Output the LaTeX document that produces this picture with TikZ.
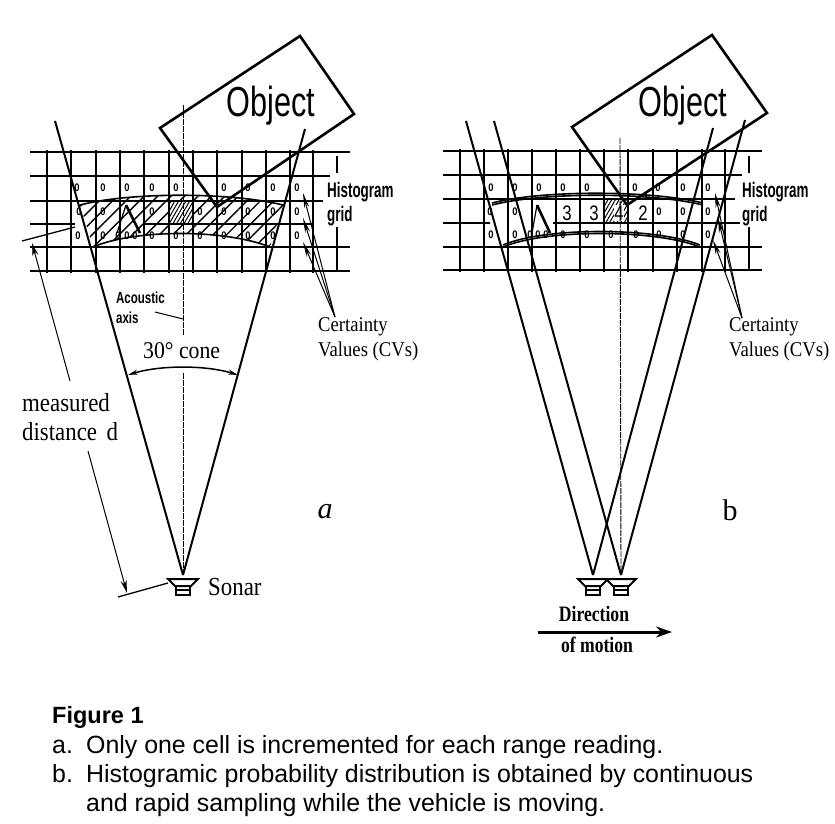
\documentclass[tikz,border=0pt]{standalone}
\usepackage{fontspec}
\setmainfont{Liberation Serif}
\newfontfamily\capfont{Liberation Sans}
\usetikzlibrary{positioning,arrows.meta,patterns.meta}
\tikzset{
	gridline/.style={line width=1.4pt},
	beam/.style={line width=2pt},
	objectbox/.style={line width=2.6pt, line join=miter},
	arcline/.style={line width=1.6pt},
	axisline/.style={line width=0.9pt, dash pattern=on 6pt off 1pt},
	thinline/.style={line width=1pt},
	pointer/.style={line width=1pt, -{Stealth[length=15pt,width=5pt]}},
	hatch/.style={pattern={Lines[angle=45,distance=9.5pt,line width=1.4pt]}},
	densehatch/.style={pattern={Lines[angle=60,distance=3.2pt,line width=1pt]}},
	cv/.style={font=\capfont\fontsize{11}{11}\selectfont\bfseries, xscale=.85, transform shape, inner sep=0pt},
	cvnum/.style={font=\capfont\fontsize{21}{21}\selectfont, xscale=.8, transform shape, inner sep=0pt},
	serif/.style={font=\fontsize{26}{26}\selectfont, xscale=.88, transform shape, inner sep=0pt, anchor=west},
	certtext/.style={font=\fontsize{21}{21}\selectfont, xscale=.89, transform shape, inner sep=0pt, anchor=west},
	objtext/.style={font=\capfont\fontsize{42}{42}\selectfont, xscale=.73, transform shape, inner sep=0pt},
	gridtext/.style={font=\capfont\fontsize{21}{21}\selectfont\bfseries, xscale=.64, transform shape, inner sep=0pt, anchor=west},
	axistext/.style={font=\capfont\fontsize{16}{16}\selectfont\bfseries, xscale=.72, transform shape, inner sep=0pt, anchor=west},
	motiontext/.style={font=\fontsize{22}{22}\selectfont\bfseries, xscale=.8, transform shape, inner sep=0pt},
	captext/.style={font=\capfont\fontsize{24.9}{24.9}\selectfont, inner sep=0pt, anchor=base west},
}
\newcommand{\drawsonar}[1]{
	\begin{scope}[shift={(#1)}]
		\draw[line width=2pt, fill=white] (-15,4) -- (15,4) -- (8,11) -- (-8,11) -- cycle;
		\draw[line width=1.7pt] (-7,11) rectangle (7,20);
		\draw[line width=1.7pt] (-7,15) -- (7,15);
	\end{scope}
}
\begin{document}
\begin{tikzpicture}[x=1pt, y=-1pt]
	\useasboundingbox (0,0) rectangle (835,824);
	\fill[white] (0,0) rectangle (835,824);

	% panel a
	\fill[white] (80,205) .. controls (130,192) and (230,192) .. (283,205) -- (270,247)
		.. controls (225,229) and (135,229) .. (93,247) -- cycle;
	\path[hatch] (80,205) .. controls (130,192) and (230,192) .. (283,205) -- (270,247)
		.. controls (225,229) and (135,229) .. (93,247) -- cycle;
	\fill[white] (169,201) rectangle (193,224);
	\path[densehatch] (169,201) rectangle (193,224);

	\draw[gridline] (30,152) -- (350,152);
	\draw[gridline] (30,176) -- (330,176);
	\draw[gridline] (30,201) -- (323,201);
	\draw[gridline] (30,224) -- (75,224);
	\draw[gridline] (143,224) -- (313,224);
	\draw[gridline] (30,247) -- (350,247);
	\draw[gridline] (30,271) -- (350,271);
	\foreach \x in {47,71,96,120,144,169,193,217,242,266,290,313}
		\draw[gridline] (\x,150) -- (\x,273);
	\draw[gridline] (337,156) -- (337,173);
	\draw[gridline] (337,227) -- (337,272);

	\foreach \x in {77,103,127,152,176,224,248,273,297}
		\node[cv] (zaa\x) at (\x,188) {0};
	\foreach \x in {79,103,152,200,224,248,273,297}
		\node[cv] (zab\x) at (\x,212) {0};
	\foreach \x in {78,103,118,127,135,152,176,200,224,248,273,297}
		\node[cv] (zac\x) at (\x,236) {0};

	\draw[arcline] (80,205) .. controls (130,192) and (230,192) .. (283,205);
	\draw[arcline] (93,247) .. controls (135,229) and (225,229) .. (270,247);
	\draw[line width=1.2pt] (117,233) -- (126,205);
	\draw[line width=2.6pt] (126,205) -- (140,233);

	\coordinate (sonarA) at (183,575);
	\coordinate (coneAl) at (55,121);
	\coordinate (coneAr) at (305,129);
	\draw[beam] (sonarA) -- (coneAl);
	\draw[beam] (sonarA) -- (coneAr);
	\draw[axisline] (183,105) -- (183,335);
	\draw[axisline] (183,373) -- (sonarA);
	\draw[objectbox] (300,36) -- (354,114) -- (217,207) -- (160,128) -- cycle;
	\node[objtext] (objectA) at (271,106) {Object};
	\drawsonar{183,575}
	\node[serif] (sonarlabel) at (208,587) {Sonar};

	\node[gridtext] (histA) at (327,192) {Histogram};
	\node[gridtext] (gridA) at (327,216) {grid};
	\node[certtext] (certA) at (318,327) {Certainty};
	\node[certtext] (valA) at (318,351) {Values (CVs)};
	\coordinate (certtipA) at (335,317);
	\coordinate (cvAa) at (303,193);
	\coordinate (cvAb) at (303,218);
	\coordinate (cvAc) at (303,242);
	\draw[pointer] (certtipA) -- (cvAa);
	\draw[pointer] (certtipA) -- (cvAb);
	\draw[pointer] (certtipA) -- (cvAc);

	\node[axistext] (acoustic) at (116,298) {Acoustic};
	\node[axistext] (axislabel) at (116,318) {axis};
	\coordinate (axispoint) at (183,319);
	\draw[thinline] (155,312) -- (axispoint);

	\node[serif, font=\fontsize{24}{24}\selectfont, xscale=1.03] (conelabel) at (143,351) {30° cone};
	\coordinate (arcl) at (128,375);
	\coordinate (arcr) at (238,375);
	\draw[line width=1.5pt, {Stealth[length=10pt,width=5pt]}-{Stealth[length=10pt,width=5pt]}]
		(arcl) .. controls (160,365) and (206,365) .. (arcr);

	\node[serif] (measured) at (22,403) {measured};
	\node[serif] (distance) at (22,432) {distance\, d};
	\coordinate (disttop) at (32,243);
	\coordinate (distbot) at (127,593);
	\draw[thinline, -{Stealth[length=13pt,width=6pt]}] (70,381) -- (disttop);
	\draw[thinline, -{Stealth[length=13pt,width=6pt]}] (88,451) -- (distbot);
	\draw[line width=1.3pt] (22,241) -- (75,227);
	\draw[line width=1.3pt] (118,597) -- (168,583);
	\node[font=\fontsize{30}{30}\selectfont\itshape, inner sep=0pt] (panelA) at (325,512) {a};

	% panel b
	\fill[white] (604,199) rectangle (628,223);
	\path[densehatch] (604,199) rectangle (628,223);

	\draw[gridline] (443,151) -- (762,151);
	\draw[gridline] (443,175) -- (742,175);
	\draw[gridline] (443,199) -- (735,199);
	\draw[gridline] (443,223) -- (490,223);
	\draw[gridline] (553,223) -- (740,223);
	\draw[gridline] (443,247) -- (762,247);
	\draw[gridline] (443,270) -- (762,270);
	\foreach \x in {460,484,508,532,556,580,604,628,653,677,702,725}
		\draw[gridline] (\x,149) -- (\x,272);
	\draw[gridline] (749,156) -- (749,173);
	\draw[gridline] (749,227) -- (749,271);

	\foreach \x in {491,515,539,563,587,635,658,683,708}
		\node[cv] (zba\x) at (\x,188) {0};
	\foreach \x in {490,515,659,683,708}
		\node[cv] (zbb\x) at (\x,212) {0};
	\foreach \x in {491,515,530,538,546,563,587,611,636,659,683,708}
		\node[cv] (zbc\x) at (\x,235) {0};
	\node[cvnum] (nba) at (567,213) {3};
	\node[cvnum] (nbb) at (594,213) {3};
	\node[cvnum, fill=white, inner sep=0.5pt] (nbc) at (619,213) {4};
	\node[cvnum] (nbd) at (643,213) {2};

	\draw[arcline] (492,205) .. controls (542,192) and (650,192) .. (703,205);
	\draw[arcline] (492,203) .. controls (542,190) and (650,190) .. (703,203);
	\draw[arcline] (503,247) .. controls (545,229) and (655,229) .. (700,247);
	\draw[arcline] (503,245) .. controls (545,227) and (655,227) .. (700,245);
	\draw[line width=1.2pt] (532,233) -- (537,205);
	\draw[line width=2.6pt] (537,205) -- (550,233);

	\coordinate (sonarBl) at (593,575);
	\coordinate (sonarBr) at (621,575);
	\coordinate (coneBa) at (466,121);
	\coordinate (coneBb) at (713,128);
	\coordinate (coneBc) at (494,121);
	\coordinate (coneBd) at (745,120);
	\draw[beam] (sonarBl) -- (coneBa);
	\draw[beam] (sonarBl) -- (coneBb);
	\draw[beam] (sonarBr) -- (coneBc);
	\draw[beam] (sonarBr) -- (coneBd);
	\draw[axisline] (620,138) -- (sonarBr);
	\draw[objectbox] (712,35) -- (767,113) -- (627,205) -- (572,127) -- cycle;
	\node[objtext] (objectB) at (683,106) {Object};
	\drawsonar{593,575}
	\drawsonar{621,575}

	\node[gridtext] (histB) at (742,192) {Histogram};
	\node[gridtext] (gridB) at (742,216) {grid};
	\node[certtext] (certB) at (729,327) {Certainty};
	\node[certtext] (valB) at (729,351) {Values (CVs)};
	\coordinate (certtipB) at (742,318);
	\coordinate (cvBa) at (715,193);
	\coordinate (cvBb) at (718,218);
	\coordinate (cvBc) at (713,240);
	\draw[pointer] (certtipB) -- (cvBa);
	\draw[pointer] (certtipB) -- (cvBb);
	\draw[pointer] (certtipB) -- (cvBc);

	\node[motiontext] (direction) at (594,614) {Direction};
	\node[motiontext] (ofmotion) at (597,645) {of motion};
	\coordinate (motionl) at (538,632);
	\coordinate (motionr) at (672,632);
	\draw[line width=3pt, -{Stealth[length=16pt,width=11pt]}] (motionl) -- (motionr);
	\node[font=\fontsize{30}{30}\selectfont, inner sep=0pt] (panelB) at (730,510) {b};

	% caption
	\node[captext, font=\capfont\fontsize{23.5}{23.5}\selectfont\bfseries] (figlabel) at (52,723) {Figure 1};
	\node[captext] (capAm) at (52,753) {a.};
	\node[captext] (capA) at (86,753) {Only one cell is incremented for each range reading.};
	\node[captext] (capBm) at (52,782) {b.};
	\node[captext] (capB) at (86,782) {Histogramic probability distribution is obtained by continuous};
	\node[captext] (capC) at (86,811) {and rapid sampling while the vehicle is moving.};
\end{tikzpicture}
\end{document}
